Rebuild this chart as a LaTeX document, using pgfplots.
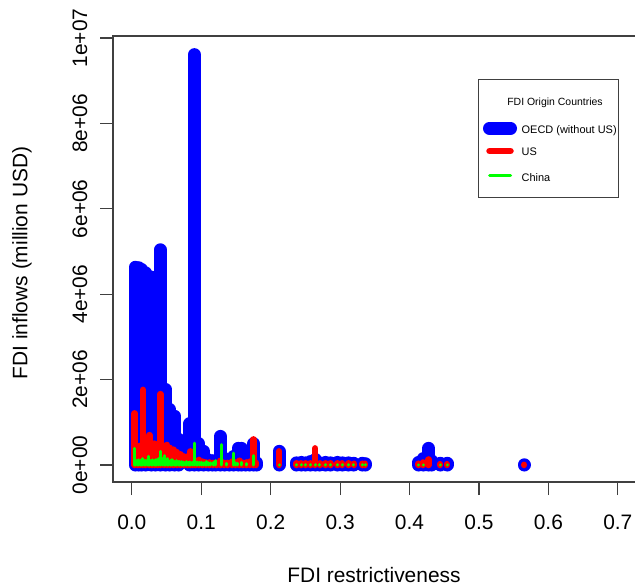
\documentclass[border=0pt]{standalone}
\usepackage{pgfplots}
\pgfplotsset{compat=1.18}
\usepackage{fontspec}
\setmainfont{Liberation Sans}

\pgfplotstableread{
x y
0.005 4.63
0.010 4.62
0.014 4.58
0.020 4.50
0.028 4.40
0.034 3.50
0.041 5.04
0.0485 1.77
0.0547 1.30
0.062 1.14
0.0677 0.60
0.0835 0.97
0.090 9.61
0.0965 0.50
0.1037 0.32
0.110 0.12
0.116 0.10
0.121 0.10
0.1275 0.67
0.134 0.15
0.140 0.12
0.147 0.20
0.153 0.39
0.158 0.39
0.164 0.20
0.170 0.15
0.1755 0.50
0.180 0.05
0.212 0.32
0.237 0.05
0.244 0.06
0.250 0.05
0.257 0.08
0.264 0.13
0.271 0.05
0.279 0.06
0.286 0.05
0.296 0.06
0.303 0.05
0.312 0.05
0.320 0.04
0.332 0.04
0.336 0.03
0.413 0.06
0.4195 0.15
0.4275 0.39
0.432 0.10
0.444 0.04
0.454 0.04
0.565 0.005
}\oecd

\pgfplotstableread{
x y
0.004 1.21
0.008 0.40
0.012 0.45
0.0161 1.76
0.020 0.55
0.0252 0.70
0.029 0.51
0.033 0.50
0.037 0.35
0.041 1.66
0.046 0.45
0.0507 0.47
0.055 0.40
0.060 0.36
0.065 0.30
0.070 0.25
0.075 0.20
0.080 0.20
0.0843 0.32
0.088 0.15
0.092 0.10
0.097 0.12
0.102 0.08
0.107 0.06
0.112 0.06
0.117 0.05
0.122 0.05
0.1275 0.10
0.133 0.05
0.138 0.05
0.144 0.08
0.149 0.06
0.155 0.10
0.160 0.05
0.165 0.06
0.170 0.08
0.175 0.60
0.179 0.05
0.212 0.32
0.237 0.04
0.244 0.04
0.250 0.04
0.257 0.04
0.264 0.39
0.271 0.04
0.279 0.04
0.286 0.04
0.296 0.04
0.303 0.04
0.312 0.04
0.320 0.03
0.332 0.03
0.336 0.03
0.413 0.03
0.4195 0.06
0.4275 0.13
0.444 0.02
0.454 0.02
0.565 0.005
}\us

\pgfplotstableread{
x y
0.004 0.39
0.006 0.12
0.008 0.10
0.010 0.12
0.012 0.10
0.014 0.12
0.016 0.15
0.018 0.10
0.020 0.10
0.022 0.12
0.0238 0.20
0.026 0.12
0.028 0.10
0.030 0.12
0.032 0.10
0.034 0.12
0.036 0.12
0.038 0.15
0.0413 0.32
0.044 0.15
0.047 0.22
0.049 0.12
0.051 0.15
0.053 0.10
0.055 0.10
0.057 0.12
0.059 0.12
0.061 0.08
0.063 0.08
0.065 0.10
0.067 0.08
0.069 0.08
0.071 0.08
0.073 0.06
0.075 0.07
0.077 0.06
0.079 0.08
0.081 0.06
0.083 0.07
0.085 0.06
0.087 0.06
0.0905 0.51
0.093 0.06
0.095 0.07
0.098 0.06
0.101 0.06
0.103 0.05
0.106 0.06
0.108 0.08
0.111 0.05
0.113 0.05
0.117 0.06
0.120 0.10
0.1285 0.48
0.136 0.04
0.146 0.28
0.150 0.05
0.152 0.04
0.158 0.06
0.165 0.03
0.175 0.22
0.212 0.005
0.237 0.01
0.244 0.01
0.250 0.01
0.257 0.01
0.264 0.01
0.271 0.01
0.279 0.01
0.286 0.01
0.296 0.01
0.303 0.01
0.312 0.01
0.320 0.01
0.332 0.01
0.336 0.01
0.413 0.005
0.4195 0.005
0.444 0.005
0.454 0.005
}\china

\begin{document}
\begin{tikzpicture}[x=1bp,y=1bp]
\begin{axis}[
  at={(113bp,106bp)}, anchor=south west,
  scale only axis, width=523bp, height=446bp,
  xmin=-0.0271, xmax=0.7262, ymin=-0.398, ymax=10.047,
  axis line style={black!75, line width=1.1bp},
  xtick={0,0.1,0.2,0.3,0.4,0.5,0.6,0.7},
  xticklabels={0.0,0.1,0.2,0.3,0.4,0.5,0.6,0.7},
  ytick={0,2,4,6,8,10},
  yticklabels={0e+00,2e+06,4e+06,6e+06,8e+06,1e+07},
  xtick pos=bottom, ytick pos=left,
  tick align=outside, major tick length=13bp,
  tick style={black!75, line width=1.1bp},
  /pgf/number format/assume math mode=true,
  ticklabel style={font=\fontsize{21}{25}\selectfont, inner sep=0pt},
  xticklabel style={anchor=center},
  xticklabel shift=27bp,
  yticklabel style={anchor=center, rotate=90},
  yticklabel shift=20bp,
  xlabel={FDI restrictiveness},
  ylabel={FDI inflows (million USD)},
  label style={font=\fontsize{21}{25}\selectfont},
  xlabel style={at={(axis description cs:0.499,-0.2085)}, anchor=center, inner sep=0pt},
  ylabel style={at={(axis description cs:-0.174,0.491)}, anchor=center, inner sep=0pt},
]
\addplot[ycomb, draw=blue, line width=13bp, line cap=round, mark=none] table[x=x,y=y] {\oecd};
\addplot[ycomb, draw=red, line width=6.5bp, line cap=round, mark=none] table[x=x,y=y] {\us};
\addplot[ycomb, draw=green, line width=3bp, line cap=round, mark=none] table[x=x,y=y] {\china};
\end{axis}
% legend
\draw[black!75, line width=1bp] (478.5,390) rectangle (618.5,508);
\node[anchor=base, inner sep=0pt, font=\fontsize{10.5}{13}\selectfont] at (555,482.4) {FDI Origin Countries};
\draw[blue, line width=13bp, line cap=round] (489.5,459.7) -- (510.5,459.7);
\draw[red, line width=6.5bp, line cap=round] (489.5,437) -- (510.5,437);
\draw[green, line width=3bp, line cap=round] (489.5,412) -- (510.5,412);
\node[anchor=base west, inner sep=0pt, font=\fontsize{11}{13}\selectfont] at (521.5,454.8) {OECD (without US)};
\node[anchor=base west, inner sep=0pt, font=\fontsize{11}{13}\selectfont] at (521.5,432.4) {US};
\node[anchor=base west, inner sep=0pt, font=\fontsize{11}{13}\selectfont] at (521.5,406.8) {China};
\pgfresetboundingbox
\useasboundingbox (0,0) rectangle (635,588);
\end{tikzpicture}
\end{document}
